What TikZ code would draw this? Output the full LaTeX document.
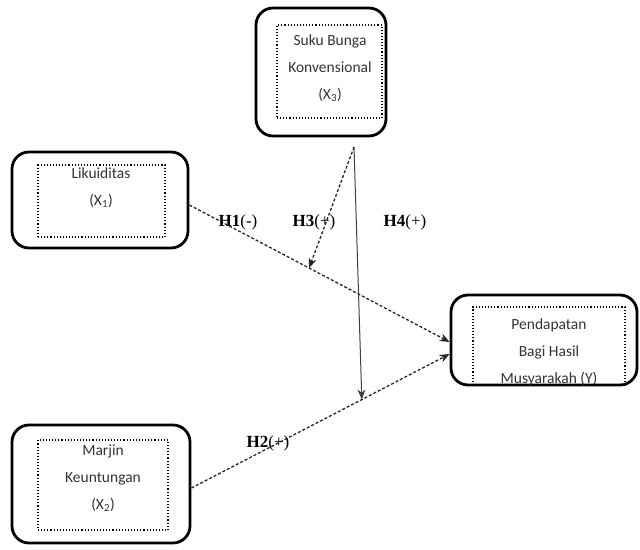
\documentclass[tikz,border=0pt]{standalone}
\usepackage{fontspec}
\setmainfont{Liberation Serif}
\newfontfamily\boxfont{Carlito}
\usetikzlibrary{positioning, calc, arrows.meta}

\begin{document}
\begin{tikzpicture}[x = 1pt, y = -1pt,
  outer/.style = {draw, line width = 2.8pt, rounded corners = 17pt, inner sep = 0pt},
  inner/.style = {draw, dotted, line width = 1.1pt, inner sep = 0pt},
  txt/.style = {align = center, text = black!80, font = \boxfont\fontsize{15.5}{27}\selectfont},
  hyp/.style = {dash pattern = on 3pt off 2pt, line width = 1.3pt, black!85, -{Stealth[length = 10pt, width = 8pt]}},
  lab/.style = {font = \fontsize{17}{20}\selectfont}]
\useasboundingbox (0,0) rectangle (640,549);

\node[outer, minimum width = 130pt, minimum height = 128pt] (X3b) at (321,72) {};
\node[outer, minimum width = 176pt, minimum height = 96pt] (X1b) at (100,200) {};
\node[outer, minimum width = 186pt, minimum height = 90pt] (Yb) at (544,340) {};
\node[outer, minimum width = 178pt, minimum height = 118pt] (X2b) at (101,484) {};

\node[inner, minimum width = 105pt, minimum height = 93pt] (X3i) at (329.5,71.5) {};
\node[inner, minimum width = 127pt, minimum height = 72pt] (X1i) at (101.5,201) {};
\node[inner, minimum width = 152pt, minimum height = 78pt] (Yi) at (549,346) {};
\node[inner, minimum width = 130pt, minimum height = 90pt] (X2i) at (103,485) {};

\node[txt] (X3) at (330,68) {Suku Bunga\\Konvensional\\(X\textsubscript{3})};
\node[txt] (X1) at (101,188) {Likuiditas\\(X\textsubscript{1})};
\node[txt] (Y) at (549,352) {Pendapatan\\Bagi Hasil\\Musyarakah (Y)};
\node[txt] (X2) at (103,478) {Marjin\\Keuntungan\\(X\textsubscript{2})};

\coordinate (top) at (354,147);
\coordinate (h1s) at ([yshift = -5pt]X1b.east);
\coordinate (h1e) at ([yshift = -2pt]Yb.west);
\coordinate (h2s) at ([yshift = -4pt]X2b.east);
\coordinate (h2e) at ([yshift = -14pt]Yb.west);
\coordinate (m1) at ($(h1s)!0.46!(h1e)$);
\coordinate (m2) at ($(h2s)!0.66!(h2e)$);

\draw[hyp] (h1s) -- (h1e);
\draw[hyp] (h2s) -- (h2e);
\draw[hyp] (top) -- (m1);
\draw[black!75, line width = 1pt, -{Stealth[length = 10pt, width = 8pt]}] (top) -- (m2);

\node[lab] (H1) at (238,222) {\textbf{H1}(-)};
\node[lab] (H3) at (314,222) {\textbf{H3}(+)};
\node[lab] (H4) at (405,222) {\textbf{H4}(+)};
\node[lab] (H2) at (268,443) {\textbf{H2}(+)};
\end{tikzpicture}
\end{document}
